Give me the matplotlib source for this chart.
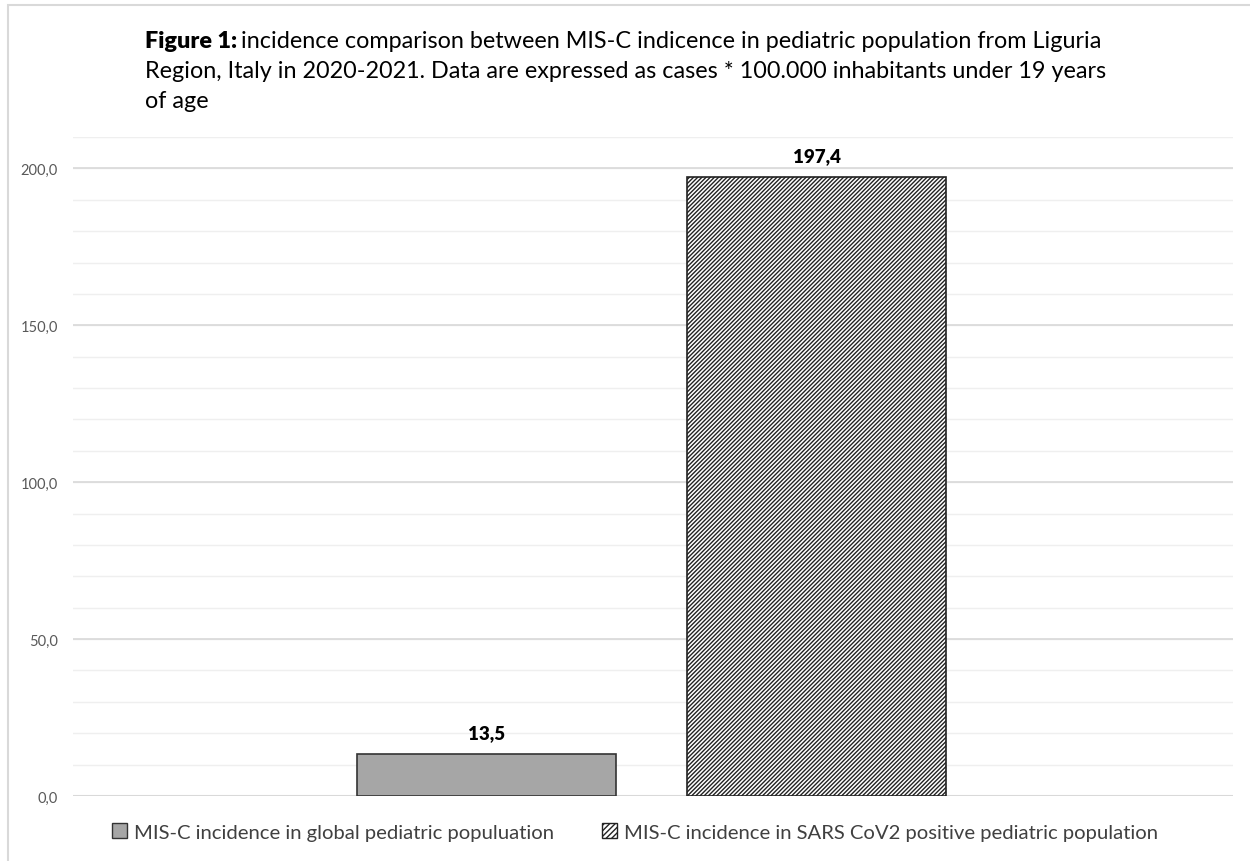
import numpy as np
import matplotlib
matplotlib.use("Agg")
import matplotlib.pyplot as plt
from matplotlib.patches import Patch, Rectangle

plt.rcParams['font.family'] = ['Lato', 'DejaVu Sans']
plt.rcParams['hatch.linewidth'] = 1.0

series = ["MIS-C incidence in global pediatric populuation",
          "MIS-C incidence in SARS CoV2 positive pediatric population"]
values = [13.5, 197.4]
labels = ["13,5", "197,4"]
yticks = [0, 50, 100, 150, 200]
ytick_labels = ["0,0", "50,0", "100,0", "150,0", "200,0"]

fig = plt.figure(figsize=(12.5, 8.62), dpi=100)
W, H = 1250, 862

# outer chart border (left and top edges visible)
fig.patches.append(Rectangle((8 / W, -0.05), 1.2, 1 - 6 / H + 0.05,
                             transform=fig.transFigure, fill=False,
                             edgecolor='#d9d9d9', linewidth=1.5))

ax = fig.add_axes([73 / W, 1 - 797 / H, (1233 - 73) / W, (797 - 138) / H])
ax.set_ylim(0, 210)
ax.set_xlim(-0.5, 0.5)

for y in np.arange(10, 211, 10):
    ax.axhline(y, color='#efefef', linewidth=1, zorder=0)
for y in yticks[1:]:
    ax.axhline(y, color='#d9d9d9', linewidth=1.2, zorder=0)
ax.axhline(0, color='#d9d9d9', linewidth=1.5, zorder=1)

offsets = [-0.1437, 0.1410]
width = 0.2238
ax.bar(offsets[0], values[0], width, color='#a6a6a6', edgecolor='#333333',
       linewidth=1.2, zorder=2)
ax.bar(offsets[1], values[1], width, color='white', edgecolor='#222222',
       hatch='////////', linewidth=1.2, zorder=2)

for x, v, t in zip(offsets, values, labels):
    ax.text(x, v + 4, t, ha='center', va='bottom', fontsize=13.5,
            fontweight='heavy', color='black')

ax.set_yticks(yticks)
ax.set_yticklabels(ytick_labels, color='#595959', fontsize=10.5)
ax.tick_params(axis='y', length=0, pad=11)
ax.set_xticks([])
for s in ax.spines.values():
    s.set_visible(False)

# title with bold lead-in
fig.canvas.draw()
r = fig.canvas.get_renderer()
tx, ty = 145 / W, 1 - 42 / H
fs = 16.8
t0 = fig.text(tx, ty, "Figure 1:", fontsize=fs, fontweight='heavy', va='center')
bb = t0.get_window_extent(r)
fig.text(bb.x1 / W + 4 / W, ty,
         "incidence comparison between MIS-C indicence in pediatric population from Liguria",
         fontsize=fs, va='center')
fig.text(tx, 1 - 72 / H,
         "Region, Italy in 2020-2021. Data are expressed as cases * 100.000 inhabitants under 19 years",
         fontsize=fs, va='center')
fig.text(tx, 1 - 101 / H, "of age", fontsize=fs, va='center')

handles = [Patch(facecolor='#a6a6a6', edgecolor='#333333'),
           Patch(facecolor='white', edgecolor='#222222', hatch='//////')]
fig.legend(handles, series, loc='center', bbox_to_anchor=(0.508, 1 - 833 / H),
           ncol=2, frameon=False, fontsize=14.6, handlelength=0.7,
           handleheight=0.7, handletextpad=0.35, columnspacing=2.4,
           labelcolor='#404040')

fig.savefig("out.png", dpi=100)
